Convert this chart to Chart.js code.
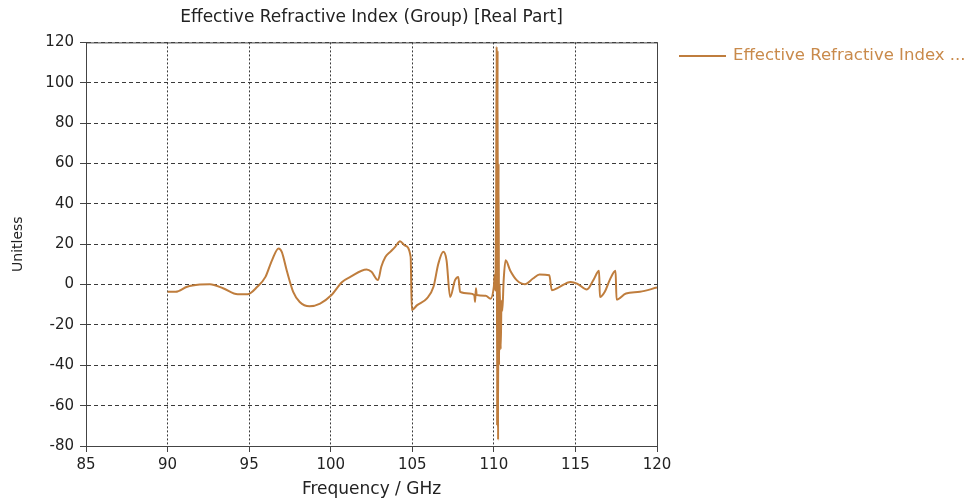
<!DOCTYPE html>
<html>
<head>
<meta charset="utf-8">
<script src="https://cdn.jsdelivr.net/npm/chart.js@4"></script>
<style>
  html, body { margin: 0; padding: 0; background: #fff; }
  #chart { display: block; }
</style>
</head>
<body>
<canvas id="chart" width="974" height="501"></canvas>
<script>
// Frequency (GHz) and real part of the group effective refractive index
const freq = [
    90.0, 90.5, 91.2, 92.0, 92.6, 93.4, 94.3, 94.9, 95.5, 96.0,
    96.4, 96.8, 97.0, 97.3, 97.7, 98.1, 98.7, 99.35, 100.05, 100.7,
    101.2, 102.2, 102.5, 102.9, 103.1, 103.35, 103.65, 103.95, 104.25, 104.55,
    104.9, 104.97, 105.3, 105.9, 106.3, 106.6, 106.9, 107.1, 107.32, 107.62,
    107.82, 107.93, 108.5, 108.8, 108.85, 108.9, 108.95, 109.5, 109.8, 110.0,
    110.06, 110.1, 110.14, 110.17, 110.2, 110.23, 110.26, 110.29, 110.32, 110.36,
    110.42, 110.47, 110.52, 110.6, 110.72, 111.0, 111.4, 111.9, 112.4, 112.8,
    113.4, 113.55, 113.95, 114.7, 115.1, 115.7, 116.1, 116.45, 116.5, 116.8,
    117.1, 117.46, 117.52, 118.1, 118.95, 120.0
];
const nReal = [
    -3.6, -3.6, -1.1, 0, 0.2, -1.8, -4.8, -4.8, -1.1, 3.8,
    12, 17.9, 16.2, 7.1, -3.6, -8.6, -10.7, -9.4, -5.2, 1.3,
    3.8, 7.5, 6.3, 2.2, 8.8, 13.7, 16.2, 18.7, 21.5, 19.3,
    13.7, -12.6, -10.2, -6.9, -1.1, 10.4, 16.2, 12, -6.2, 2.2,
    3.8, -3.6, -4.4, -5.2, -8.6, -1.8, -5.2, -5.5, -7, -1,
    5, -3, 40, 118, -70, 116, -77, 60, -40, 0,
    -32, -8, -13, 2, 12, 7, 2.2, 0.2, 3, 5,
    4.6, -2.8, -1.5, 1.3, 0.5, -2.4, 2.2, 6.8, -6.2, -3.6,
    2.2, 6.8, -7.4, -4.4, -3.6, -1.5
];
const xTicks = [85, 90, 95, 100, 105, 110, 115, 120];
const yTicks = [-80, -60, -40, -20, 0, 20, 40, 60, 80, 100, 120];

const seriesLabel = "Effective Refractive Index ...";
const lineColor = "#bf7d3d";
const font = "DejaVu Sans";

// solid frame round the plot + legend on the right
const framePlugin = {
    id: "frame",
    afterDraw(chart) {
        const { ctx, chartArea: a } = chart;
        ctx.save();
        ctx.strokeStyle = "#444";
        ctx.lineWidth = 1;
        ctx.strokeRect(a.left + 0.5, a.top + 0.5, a.right - a.left, a.bottom - a.top);
        // legend
        ctx.strokeStyle = lineColor;
        ctx.lineWidth = 2;
        ctx.beginPath();
        ctx.moveTo(679, 56);
        ctx.lineTo(726, 56);
        ctx.stroke();
        ctx.fillStyle = "#c98a4b";
        ctx.font = "16.5px '" + font + "'";
        ctx.textBaseline = "middle";
        ctx.fillText(seriesLabel, 733, 56);
        ctx.restore();
    }
};

new Chart(document.getElementById("chart"), {
    type: "line",
    data: {
        datasets: [{
            label: seriesLabel,
            data: freq.map((f, i) => ({ x: f, y: nReal[i] })),
            borderColor: lineColor,
            borderWidth: 2,
            pointRadius: 0,
            cubicInterpolationMode: "monotone",
            fill: false
        }]
    },
    options: {
        responsive: false,
        maintainAspectRatio: false,
        animation: false,
        layout: { padding: { left: 0, right: 317, top: 0, bottom: 0 } },
        plugins: {
            legend: { display: false },
            tooltip: { enabled: false },
            title: {
                display: true,
                text: "Effective Refractive Index (Group) [Real Part]",
                fullSize: false,
                color: "#222",
                font: { family: font, size: 17, weight: "normal" },
                padding: { top: 7, bottom: 15 }
            }
        },
        scales: {
            x: {
                type: "linear",
                min: 85,
                max: 120,
                afterBuildTicks: s => { s.ticks = xTicks.map(v => ({ value: v })); },
                afterFit: s => { s.height = 55; },
                ticks: { color: "#222", font: { family: font, size: 15 }, padding: 4 },
                grid: { color: "#3a3a3a", tickLength: 6, tickColor: "#444" },
                border: { display: true, color: "#444", dash: [2, 2] },
                title: {
                    display: true,
                    text: "Frequency / GHz",
                    color: "#222",
                    font: { family: font, size: 17 },
                    padding: { top: 0, bottom: 1 }
                }
            },
            y: {
                min: -80,
                max: 120,
                afterBuildTicks: s => { s.ticks = yTicks.map(v => ({ value: v })); },
                afterFit: s => { s.width = 86; },
                ticks: { color: "#222", font: { family: font, size: 15 }, padding: 6 },
                grid: { color: "#3a3a3a", tickLength: 6, tickColor: "#444" },
                border: { display: true, color: "#444", dash: [4, 3] },
                title: {
                    display: true,
                    text: "Unitless",
                    color: "#222",
                    font: { family: font, size: 14 },
                    padding: { top: 10, bottom: 0 }
                }
            }
        }
    },
    plugins: [framePlugin]
});
</script>
</body>
</html>
